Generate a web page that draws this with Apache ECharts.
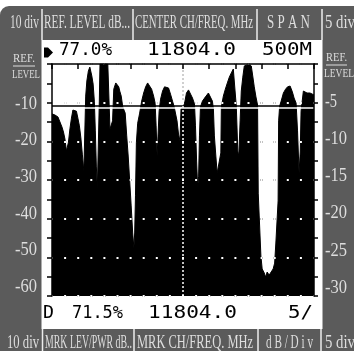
<!DOCTYPE html>
<html><head><meta charset="utf-8">
<script src="https://cdn.jsdelivr.net/npm/echarts@6/dist/echarts.min.js"></script>
<style>html,body{margin:0;padding:0;background:#fff;overflow:hidden}#c{width:354px;height:351px}</style>
</head><body><div id="c"></div>
<script>
// ---- data ----
const CENTER_MHZ = 11804.0;
const SPAN_MHZ = 500;
const freqMHz = [11554,11559.7,11565.4,11569.2,11573,11575.9,11578.7,11581.6,11583.5,11585.4,
11588.2,11591.1,11593.9,11597.7,11600.6,11603.4,11606.3,11609.1,11612,11614.8,
11616.7,11618.3,11620.5,11623.4,11626.2,11628.1,11630,11632.5,11634.8,11636.7,
11638.6,11640.5,11643,11644.3,11645.6,11652.9,11660.5,11663.3,11664.6,11667.5,
11669.6,11671.9,11675.7,11679.5,11681.4,11683.3,11686.1,11689,11691.8,11693.7,
11696.6,11699.4,11702.3,11705.1,11708,11710.3,11711.8,11713.3,11715,11717.5,
11721.3,11725.1,11728.9,11732.7,11736.5,11740.3,11744.1,11747.9,11750.8,11752.7,
11754.6,11756.5,11758.4,11761.2,11765,11768.8,11772.6,11776.4,11780.2,11784,
11786.9,11789.7,11792.6,11795.4,11798.3,11800.2,11804.9,11807.8,11810.6,11814.5,
11818.3,11822.1,11825.9,11827.8,11830,11832,11833.8,11835.4,11837.3,11841.1,
11846.8,11852.5,11856.3,11860.1,11862,11863.9,11866.7,11869.2,11872.4,11876.2,
11877.2,11881,11884.8,11888.6,11892.4,11896.2,11900,11903.8,11905.7,11908.6,
11910.5,11913,11915.2,11918.1,11921,11924.7,11930.4,11934.3,11937.1,11940,
11943.2,11946.3,11947.6,11949.4,11952.7,11955.1,11958.9,11961.8,11964.6,11968.4,
11972.2,11976,11978.9,11981.2,11983.6,11985.5,11986.5,11988.4,11991.3,11995.6,
11999.8,12003.6,12008.4,12012.7,12016,12019.8,12022.6,12025.5,12027.8,12029.3,
12033.7,12036.9,12040.7,12046.4,12050.2,12054];
const levelDb = [-12.9,-13.2,-13.7,-15,-16.3,-17.6,-19.4,-22.5,-22.5,-20.2,
-16.8,-14,-11.9,-11.4,-12.2,-14,-16,-19.1,-23.5,-27.7,
-28.2,-8.3,-4.4,-1.8,-0.8,-0.8,-3.1,-5.2,-9.6,-17.3,
-26.4,-32.3,-32.3,-9.6,0,0,0,0,-16.8,-17.3,
-14.7,-6.5,-4.9,-4.9,-5.9,-7,-8.3,-11.1,-11.6,-12.7,
-18.6,-23.8,-30.3,-36.7,-43.7,-47.6,-43.7,-34.1,-20.4,-15.3,
-12.7,-9.6,-7.5,-5.9,-4.9,-5.4,-6.5,-8.3,-10.1,-16,
-23.8,-23.8,-12.2,-9.1,-7,-5.9,-5.7,-6.2,-7.8,-9.6,
-10.9,-11.4,-14.7,-18.1,-19.9,-11.6,-11.1,-9.6,-7.5,-6.7,
-7.2,-8.8,-10.3,-16,-25.1,-32.1,-29,-18.6,-11.1,-9.6,
-8.5,-7.5,-7.8,-9.6,-11.6,-18.6,-23.8,-28.2,-28.2,-23,
-11.1,-8.3,-6.5,-4.9,-3.4,-2.3,-1.3,-1.8,-10.9,-22.5,
-23.8,-14.7,-7,-3.4,-0.5,0,0,-0.5,-3.1,-5.9,
-8.5,-10.6,-33.4,-39.3,-49.7,-53,-54,-55.1,-53.8,-54.6,
-53.8,-53,-51.5,-46.3,-45.8,-35.4,-14.7,-10.9,-9.6,-7.5,
-6.5,-5.9,-5.7,-7.2,-8.8,-10.1,-17.3,-28.2,-22.5,-12.2,
-7,-6.7,-7.5,-7.5,-8,-8];
const refLineDb = -10.8;
const leftScale = ['-10','-20','-30','-40','-50','-60'];
const rightScale = ['-5','-10','-15','-20','-25','-30'];
const topHeader = ['10 div','REF. LEVEL dB...','CENTER CH/FREQ. MHz','S P A N','5 div'];
const bottomHeader = ['10 div','MRK LEV/PWR dB..','MRK CH/FREQ. MHz','d B / D i v','5 div'];
const readoutTop = ['77.0%','11804.0','500M'];
const readoutBottom = ['D','71.5%','11804.0','5/'];

// ---- layout ----
const startMHz = CENTER_MHZ - SPAN_MHZ / 2;
const trace = freqMHz.map((f, i) => [f - startMHz, levelDb[i]]);
const GRAY = '#5b5b5b', LT = '#dedede';
const SERIF = '"Liberation Serif", "DejaVu Serif", serif';
const MONO = '"DejaVu Sans Mono", "Liberation Mono", monospace';
const mctx = document.createElement('canvas').getContext('2d');
function fitText(str, x0, x1, yc, size, family, color, z) {
  const font = size + 'px ' + family;
  mctx.font = font;
  const w = mctx.measureText(str).width || 1;
  return {type:'text', x:x0, y:yc, scaleX:(x1 - x0) / w, z: z == null ? 5 : z, silent:true,
    style:{text:str, font:font, fill:color, textAlign:'left', textVerticalAlign:'middle', align:'left', verticalAlign:'middle'}};
}
const G = [];
G.push({type:'rect', z:-10, silent:true, shape:{x:0, y:6, width:380, height:360, r:[9,9,0,0]}, style:{fill:GRAY}});
G.push({type:'rect', z:-9, silent:true, shape:{x:41.5, y:40, width:281, height:289}, style:{fill:'#fff'}});
[42, 133, 257, 322].forEach(x => G.push({type:'line', z:-8, silent:true, shape:{x1:x, y1:9, x2:x, y2:40}, style:{stroke:'#ececec', lineWidth:1.5}}));
[42.5, 134, 258, 321].forEach(x => G.push({type:'line', z:-8, silent:true, shape:{x1:x, y1:329, x2:x, y2:351}, style:{stroke:'#ececec', lineWidth:1.5}}));
const topX = [[10,39],[44,130],[135,253],[267,310],[325,355]];
topHeader.forEach((t, i) => G.push(fitText(t, topX[i][0], topX[i][1], 23.5, 19, SERIF, LT)));
const botX = [[7,39],[45,132],[137,253],[266,313],[325,355]];
bottomHeader.forEach((t, i) => G.push(fitText(t, botX[i][0], botX[i][1], 343, 18, SERIF, LT)));
// side panels
G.push(fitText('REF.', 13, 35, 59, 12, SERIF, LT));
G.push({type:'line', silent:true, shape:{x1:13, y1:66, x2:35, y2:66}, style:{stroke:LT, lineWidth:1}});
G.push(fitText('LEVEL', 12, 40, 75, 12, SERIF, LT));
G.push(fitText('REF.', 326, 347, 58, 12, SERIF, LT));
G.push({type:'line', silent:true, shape:{x1:326, y1:65, x2:347, y2:65}, style:{stroke:LT, lineWidth:1}});
G.push(fitText('LEVEL', 324, 354, 74, 12, SERIF, LT));
leftScale.forEach((t, i) => G.push(fitText(t, 15, 37, 104 + i * 36.6, 18, SERIF, LT)));
rightScale.forEach((t, i) => G.push(fitText(t, 325, t.length > 2 ? 347 : 337, 102 + i * 37.2, 18, SERIF, LT)));
// readouts
const rtX = [[59,112],[147,236],[262,312]];
readoutTop.forEach((t, i) => G.push(fitText(t, rtX[i][0], rtX[i][1], 50.5, 18, MONO, '#000', 10)));
const rbX = [[43,54],[72,123],[148,237],[288,313]];
readoutBottom.forEach((t, i) => G.push(fitText(t, rbX[i][0], rbX[i][1], 313.5, 18, MONO, '#000', 10)));
G.push({type:'polygon', z:10, silent:true, shape:{points:[[44,47.5],[48,47.5],[53,52.5],[48,57.5],[44,57.5]]}, style:{fill:'#000'}});

const GRID = {left:52, top:64, width:262, height:232};
const hiddenAxis = {axisLine:{show:false}, axisTick:{show:false}, axisLabel:{show:false}, splitLine:{show:false}};
function xA(idx, extra) { return Object.assign({type:'value', gridIndex:idx, min:0, max:SPAN_MHZ, interval:50}, JSON.parse(JSON.stringify(hiddenAxis)), extra || {}); }
function yA(idx, extra) { return Object.assign({type:'value', gridIndex:idx, min:-60, max:0, interval:10}, JSON.parse(JSON.stringify(hiddenAxis)), extra || {}); }
const dots = c => ({show:true, lineStyle:{color:c, width:2, type:[2, 11.1], dashOffset:1}});
const lineBlk = {show:true, lineStyle:{color:'#000', width:1.5}};
const tickBlk = {show:true, length:5, lineStyle:{color:'#000', width:1.5}};

function markers(color, z, refDb) {
  return {silent:true, symbol:'none', label:{show:false}, z:z, animation:false,
    data:[{xAxis:SPAN_MHZ / 2, lineStyle:{color:color, width:1.5, type:[2,2]}},
          {yAxis:refDb, lineStyle:{color:color, width:1.5, type:'solid'}}]};
}

const option = {
  animation:false,
  graphic:{elements:G},
  grid:[Object.assign({}, GRID), Object.assign({}, GRID), Object.assign({}, GRID)],
  xAxis:[xA(0, {z:0}), xA(1, {z:3}),
         xA(2, {z:4, position:'bottom', axisLine:lineBlk, axisTick:tickBlk})],
  yAxis:[yA(0, {z:0, splitLine:dots('#000')}),
         yA(1, {z:3, splitLine:dots('#fff')}),
         yA(2, {z:4, position:'left', axisLine:lineBlk, axisTick:tickBlk, minorTick:{show:true, splitNumber:2, length:5, lineStyle:{color:'#000', width:1.5}}}),
         yA(2, {z:4, position:'right', axisLine:lineBlk, axisTick:{show:true, length:4, lineStyle:{color:'#000', width:1.5}}, minorTick:{show:true, splitNumber:2, length:4, lineStyle:{color:'#000', width:1.5}}})],
  series:[
    {type:'line', xAxisIndex:0, yAxisIndex:0, z:1, data:trace, symbol:'none', silent:true, lineStyle:{opacity:0}, markLine:markers('#000', 1, refLineDb)},
    {type:'line', xAxisIndex:0, yAxisIndex:0, z:2, data:trace, symbol:'none', silent:true,
     lineStyle:{color:'#000', width:1}, itemStyle:{color:'#000'}, areaStyle:{color:'#000', opacity:1, origin:'start'}},
    {type:'line', xAxisIndex:0, yAxisIndex:0, z:3, data:trace, symbol:'none', silent:true, lineStyle:{opacity:0}, markLine:markers('#fff', 3, refLineDb - 0.45)}
  ]
};
const chart = echarts.init(document.getElementById('c'), null, {renderer:'canvas'});
chart.setOption(option);
</script>
</body></html>
